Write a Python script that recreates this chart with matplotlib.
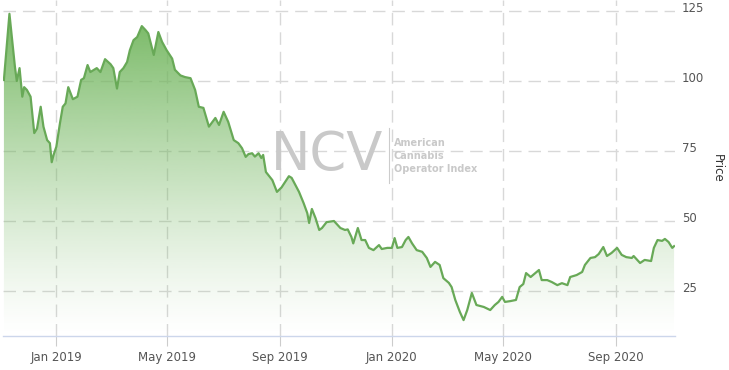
import numpy as np
import matplotlib
matplotlib.use("Agg")
import matplotlib.pyplot as plt
import matplotlib.dates as mdates
import matplotlib.transforms as mtrans
from matplotlib.colors import to_rgb

# traced points of the index (date, price)
dates = [
    "2018-11-05", "2018-11-11", "2018-11-17", "2018-11-19", "2018-11-22", "2018-11-25",
    "2018-11-27", "2018-11-30", "2018-12-04", "2018-12-08", "2018-12-11", "2018-12-15",
    "2018-12-18", "2018-12-22", "2018-12-25", "2018-12-27", "2018-12-29", "2019-01-01",
    "2019-01-05", "2019-01-08", "2019-01-11", "2019-01-14", "2019-01-19", "2019-01-24",
    "2019-01-28", "2019-01-31", "2019-02-04", "2019-02-07", "2019-02-14", "2019-02-18",
    "2019-02-23", "2019-03-01", "2019-03-04", "2019-03-08", "2019-03-11", "2019-03-15",
    "2019-03-19", "2019-03-22", "2019-03-26", "2019-03-30", "2019-04-04", "2019-04-08",
    "2019-04-11", "2019-04-17", "2019-04-22", "2019-04-26", "2019-05-01", "2019-05-07",
    "2019-05-10", "2019-05-16", "2019-05-21", "2019-05-27", "2019-06-01", "2019-06-05",
    "2019-06-10", "2019-06-16", "2019-06-23", "2019-06-27", "2019-07-02", "2019-07-07",
    "2019-07-13", "2019-07-18", "2019-07-22", "2019-07-26", "2019-07-29", "2019-08-02",
    "2019-08-05", "2019-08-09", "2019-08-12", "2019-08-14", "2019-08-17", "2019-08-24",
    "2019-08-29", "2019-09-03", "2019-09-11", "2019-09-14", "2019-09-22", "2019-09-27",
    "2019-10-01", "2019-10-03", "2019-10-06", "2019-10-10", "2019-10-14", "2019-10-17",
    "2019-10-22", "2019-10-30", "2019-11-06", "2019-11-11", "2019-11-14", "2019-11-18",
    "2019-11-20", "2019-11-25", "2019-11-29", "2019-12-03", "2019-12-07", "2019-12-12",
    "2019-12-18", "2019-12-21", "2019-12-27", "2020-01-01", "2020-01-04", "2020-01-07",
    "2020-01-12", "2020-01-16", "2020-01-19", "2020-01-23", "2020-01-28", "2020-02-03",
    "2020-02-08", "2020-02-12", "2020-02-17", "2020-02-22", "2020-02-26", "2020-03-03",
    "2020-03-06", "2020-03-10", "2020-03-15", "2020-03-19", "2020-03-23", "2020-03-28",
    "2020-04-02", "2020-04-10", "2020-04-17", "2020-04-22", "2020-04-26", "2020-04-30",
    "2020-05-03", "2020-05-09", "2020-05-15", "2020-05-19", "2020-05-23", "2020-05-26",
    "2020-05-31", "2020-06-05", "2020-06-09", "2020-06-12", "2020-06-18", "2020-06-23",
    "2020-06-29", "2020-07-04", "2020-07-10", "2020-07-13", "2020-07-20", "2020-07-26",
    "2020-07-29", "2020-08-04", "2020-08-09", "2020-08-13", "2020-08-18", "2020-08-22",
    "2020-08-27", "2020-09-02", "2020-09-07", "2020-09-12", "2020-09-18", "2020-09-20",
    "2020-09-27", "2020-10-02", "2020-10-09", "2020-10-12", "2020-10-16", "2020-10-21",
    "2020-10-24", "2020-10-28", "2020-11-01", "2020-11-03",
]
prices = [
    100.4, 124.0, 105.0, 100.0, 104.6, 94.4,
    97.8, 96.8, 94.4, 81.4, 83.0, 90.8,
    83.7, 78.9, 77.8, 71.0, 73.6, 76.5,
    85.0, 90.8, 92.0, 97.8, 93.5, 94.4,
    100.4, 101.0, 105.7, 103.2, 104.6, 103.2,
    107.8, 106.0, 104.6, 97.3, 103.2, 104.6,
    106.8, 111.0, 114.6, 115.7, 119.6, 118.2,
    117.0, 109.3, 117.5, 114.0, 111.0, 108.0,
    104.0, 102.0, 101.4, 101.0, 96.8, 90.8,
    90.4, 83.7, 86.8, 84.3, 89.0, 85.4,
    78.9, 77.8, 76.0, 72.9, 73.9, 74.2,
    73.0, 74.2, 72.5, 73.6, 67.5, 64.6,
    60.4, 62.0, 66.0, 65.4, 60.4, 56.4,
    52.8, 49.3, 54.3, 51.0, 46.8, 47.5,
    49.6, 50.0, 47.5, 46.8, 47.0, 44.3,
    42.0, 47.5, 43.2, 43.2, 40.4, 39.6,
    41.4, 40.0, 40.4, 40.4, 43.9, 40.4,
    40.7, 43.2, 44.3, 42.0, 39.6, 39.0,
    36.8, 33.6, 35.4, 34.3, 29.6, 27.9,
    26.4, 21.8, 17.5, 14.6, 18.2, 24.3,
    20.0, 19.3, 18.2, 20.0, 21.1, 22.9,
    21.1, 21.4, 21.8, 26.4, 27.5, 31.4,
    30.0, 31.4, 32.5, 28.9, 28.9, 28.2,
    27.1, 27.8, 27.1, 30.0, 30.7, 31.8,
    34.3, 36.8, 37.1, 38.2, 40.7, 37.5,
    38.6, 40.4, 37.9, 37.1, 36.8, 37.5,
    35.0, 36.1, 35.7, 40.4, 43.2, 42.9,
    43.6, 42.5, 40.4, 41.0,
]
y_ticks = [25, 50, 75, 100, 125]
x_tick_dates = ["2019-01-01", "2019-05-01", "2019-09-01", "2020-01-01", "2020-05-01", "2020-09-01"]

plt.rcParams["lines.scale_dashes"] = False
plt.rcParams["font.family"] = ["DejaVu Sans"]

x = mdates.datestr2num(dates)
y = np.array(prices)
ymin, ymax = 8.93, 128.93

fig = plt.figure(figsize=(7.29, 3.70), dpi=100)
ax = fig.add_axes([3 / 729, 34 / 370, 672 / 729, 336 / 370])
x0 = mdates.datestr2num("2018-11-04")
x1 = mdates.datestr2num("2020-11-04")
ax.set_xlim(x0, x1)
ax.set_ylim(ymin, ymax)

# grid (drawn under the semi-transparent fill)
for v in y_ticks:
    ax.axhline(v, color="#d8d8d8", lw=1, dashes=(9, 5), zorder=0)
tick_x = mdates.datestr2num(x_tick_dates)
for t in tick_x:
    ax.axvline(t, color="#d8d8d8", lw=1, dashes=(9, 5), zorder=0)

# gradient fill under the line: green fading to transparent
rgb = to_rgb("#72b65e")
t = np.linspace(0, 1, 256)
grad = np.zeros((256, 1, 4))
grad[:, 0, :3] = rgb
grad[:, 0, 3] = 0.97 * t ** 1.25
img = ax.imshow(grad, aspect="auto", origin="lower",
                extent=[x0, x1, ymin, y.max()], zorder=1)
poly = ax.fill_between(x, y, ymin, color="none", lw=0)
img.set_clip_path(poly.get_paths()[0], transform=ax.transData)

ax.plot(x, y, color="#68a957", lw=1.6, zorder=3, solid_joinstyle="round")

for s in ["top", "left", "right"]:
    ax.spines[s].set_visible(False)
ax.spines["bottom"].set_color("#ccd6eb")
ax.spines["bottom"].set_linewidth(1)
ax.spines["bottom"].set_zorder(4)

ax.set_xticks(tick_x)
ax.xaxis.set_major_formatter(mdates.DateFormatter("%b %Y"))
ax.tick_params(axis="x", length=7, color="#cccccc", labelsize=8.5,
               labelcolor="#555555", pad=4)

ax.yaxis.tick_right()
ax.set_yticks(y_ticks)
ax.tick_params(axis="y", length=0, labelsize=8.5, labelcolor="#555555", pad=5)
# labels sit slightly above their gridlines
shift = mtrans.ScaledTranslation(0, 4 / 100, fig.dpi_scale_trans)
for lab in ax.get_yticklabels():
    lab.set_transform(lab.get_transform() + shift)
ax.yaxis.set_label_position("right")
ax.set_ylabel("Price", rotation=270, fontsize=8.5, color="#333333", labelpad=14)

# watermark
fig.text(271 / 729, 1 - 155 / 370, "NCV", fontsize=38, color="#c9c9c9",
         va="center", ha="left", zorder=5)
fig.add_artist(plt.Line2D([389 / 729, 389 / 729], [1 - 128 / 370, 1 - 183 / 370],
                          color="#cccccc", lw=0.8))
for i, line in enumerate(["American", "Cannabis", "Operator Index"]):
    fig.text(394 / 729, 1 - (143 + 13 * i) / 370, line, fontsize=7,
             color="#c9c9c9", fontweight="bold", va="center", ha="left")

fig.savefig("out.png", dpi=100)
